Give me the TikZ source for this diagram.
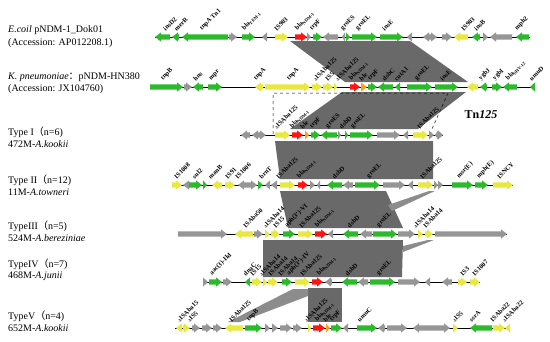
\documentclass[tikz,border=0pt]{standalone}
\usepackage{fontspec}
\setmainfont{Liberation Serif}
\newfontfamily\cjk{Noto Sans CJK SC}
\definecolor{gG}{RGB}{44,186,44}
\definecolor{gY}{RGB}{232,232,64}
\definecolor{gA}{RGB}{150,150,150}
\definecolor{rd}{RGB}{255,20,20}
\definecolor{og}{RGB}{255,160,20}
\definecolor{sh}{RGB}{105,105,105}
\definecolor{sl}{RGB}{140,140,140}
\newcounter{lb}
\newcommand{\gn}[3]{%
  \pgfmathsetmacro{\gX}{#3-((#3>#2)?1:-1)*min(abs(#3-#2),6)}%
  \fill[#1] (#2,\ty-2.6) -- (\gX,\ty-2.6) -- (\gX,\ty-4.6) -- (#3,\ty) -- (\gX,\ty+4.6) -- (\gX,\ty+2.6) -- (#2,\ty+2.6) -- cycle;}
\newcommand{\gl}[2]{\stepcounter{lb}\node[glab] (lab\arabic{lb}) at (#1,\ty-5.5) {#2};}
\newcommand{\trk}[2]{\draw[trline] (#1,\ty) -- (#2,\ty);}
\newcommand{\bla}[1]{bla\textsubscript{#1}}
\newcommand{\dl}{{\fontsize{4}{4}\selectfont Δ}}
\tikzset{
  glab/.style={rotate=45,anchor=south west,inner sep=0pt,font=\fontsize{6.5}{7}\selectfont\bfseries},
  ttl/.style={anchor=west,inner sep=0pt,font=\fontsize{10}{12}\selectfont},
  trline/.style={line width=0.8pt,black},
  shade/.style={fill=sh},
  shadel/.style={fill=sl},
}
\begin{document}
\begin{tikzpicture}[x=1pt,y=-1pt]
\useasboundingbox[fill=white] (0,0) rectangle (550,341);
% ---------- homology shading ----------
\fill[shade] (290,41) -- (410,41) -- (468,82) -- (345,82) -- cycle;
\fill[shade] (342,92) -- (466,92) -- (418,129) -- (290,129) -- cycle;
\fill[shade] (275,141) -- (433,141) -- (433,179) -- (280,179) -- cycle;
\fill[shade] (280,191) -- (386,191) -- (403,228) -- (288,228) -- cycle;
\fill[shadel] (429,191) -- (435,191) -- (392,211) -- (388,205) -- cycle;
\fill[shade] (263,240) -- (403,240) -- (402,277) -- (263,277) -- cycle;
\fill[shadel] (428,240) -- (434,240) -- (403,252) -- (403,246) -- cycle;
\fill[shade] (308,288) -- (342,288) -- (342,322) -- (308,322) -- cycle;
\fill[shadel] (228,322) -- (293,289) -- (308,289) -- (308,296) -- (240,322) -- cycle;
% ---------- Tn125 box ----------
\coordinate (d1) at (273,134); \coordinate (d2) at (273,93);
\coordinate (d3) at (448,93); \coordinate (d4) at (432,129);
\draw[dashed,line width=0.5pt] (d1) -- (d2) -- (d3) -- (d4);
\node[inner sep=0pt,font=\fontsize{12}{14}\selectfont\bfseries] (tn) at (481,115) {Tn\textit{125}};
% ---------- titles ----------
\node[ttl] (t1) at (8,30) {\textit{E.coil} pNDM-1\_Dok01};
\node[ttl] (t2) at (8,43) {(Accession: AP012208.1)};
\node[ttl] (t3) at (8,77) {\textit{K. pneumoniae}{\cjk ：}pNDM-HN380};
\node[ttl] (t4) at (8,89) {(Accession: JX104760)};
\node[ttl] (t5) at (8,132) {Type I{\cjk （}n=6)};
\node[ttl] (t6) at (8,144) {472M-\textit{A.kookii}};
\node[ttl] (t7) at (8,180) {Type II{\cjk （}n=12)};
\node[ttl] (t8) at (8,192) {11M-\textit{A.towneri}};
\node[ttl] (t9) at (8,226) {TypeIII{\cjk （}n=5)};
\node[ttl] (t10) at (8,238) {524M-\textit{A.bereziniae}};
\node[ttl] (t11) at (8,264) {TypeIV{\cjk （}n=7)};
\node[ttl] (t12) at (8,276) {468M-\textit{A.junii}};
\node[ttl] (t13) at (8,316) {TypeV{\cjk （}n=4)};
\node[ttl] (t14) at (8,328) {652M-\textit{A.kookii}};
% ---------- track 1 ----------
\def\ty{37}
\trk{155}{530}
\gn{gG}{170}{155}\gn{gG}{179}{172}\gn{gG}{228}{182}\gn{gA}{229}{237}
\gn{gG}{242}{255}\gn{gA}{267}{262}\gn{gY}{275}{288}\gn{rd}{295}{307}
\gn{gA}{307}{311}\gn{gG}{313}{322}\gn{gA}{338}{323}\gn{gA}{345}{342}
\gn{gG}{346}{350}\gn{gG}{352}{377}\gn{gG}{380}{403}\gn{gA}{412}{407}
\gn{gA}{430}{423}\gn{gA}{430}{437}\gn{gA}{442}{452}\gn{gY}{468}{454}
\gn{gG}{480}{472}\gn{gA}{483}{488}\gn{gA}{512}{490}\gn{gG}{529}{516}
\gl{166}{insD2}\gl{177}{merR}\gl{203}{tnpA Tn1}\gl{245}{\bla{TEM-1}}
\gl{277}{IS903}\gl{298}{\bla{NDM-1}}\gl{313}{trpF}\gl{344}{groES}
\gl{359}{groEL}\gl{385}{insE}\gl{464}{IS903}\gl{477}{insB}\gl{518}{mph2}
% ---------- track 2 ----------
\def\ty{87}
\trk{150}{535}
\gn{gG}{150}{183}\gn{gA}{184}{192}\gn{gG}{203}{193}\gn{gG}{208}{222}
\gn{gY}{263}{255}\gn{gY}{265}{310}\gn{gY}{312}{322}\gn{gY}{323}{333}
\gn{gY}{334}{337}\gn{rd}{350}{360}\gn{og}{361}{367}\gn{gG}{368}{377}
\gn{gG}{393}{378}\gn{gG}{400}{395}\gn{gG}{407}{432}\gn{gG}{435}{458}
\gn{gY}{478}{467}\gn{gG}{487}{480}\gn{gG}{492}{502}\gn{gG}{517}{503}
\gn{gG}{535}{530}
\gl{164}{tnpB}\gl{196}{hns}\gl{212}{mpr}\gl{257}{tnpA}\gl{290}{tnpA}
\gl{316}{\dl ISAba125}\gl{328}{IS5}\gl{338}{\dl ISAba125}\gl{352}{\bla{NDM-1}}
\gl{362}{ble}\gl{371}{trpF}\gl{385}{dsbC}\gl{397}{cutA1}\gl{418}{groEL}
\gl{443}{insE}\gl{482}{ygbJ}\gl{496}{ygbI}\gl{509}{\bla{SHV-12}}\gl{532}{umuD}
% ---------- track 3 ----------
\def\ty{135}
\trk{240}{443}
\gn{gA}{250}{241}\gn{gA}{258}{252}\gn{gA}{258}{266}\gn{gY}{275}{290}
\gn{rd}{292}{303}\gn{og}{305}{309}\gn{gG}{311}{320}\gn{gG}{337}{321}
\gn{gA}{338}{341}\gn{gG}{345}{348}\gn{gG}{350}{373}\gn{gA}{377}{400}
\gn{gA}{408}{403}\gn{gY}{413}{428}\gn{gA}{429}{434}\gn{gA}{438}{435}
\gn{gA}{438}{443}
\gl{277}{\dl ISAba125}\gl{293}{\bla{NDM-1}}\gl{303}{ble}\gl{313}{trpF}
\gl{329}{groES}\gl{342}{dsbD}\gl{354}{groEL}\gl{420}{ISAba125}
% ---------- track 4 ----------
\def\ty{185}
\trk{172}{513}
\gn{gY}{172}{182}\gn{gA}{190}{183}\gn{gG}{189}{202}\gn{gG}{203}{207}
\gn{gY}{222}{212}\gn{gY}{225}{235}\gn{gA}{247}{238}\gn{gA}{247}{257}
\gn{gG}{258}{263}\gn{gA}{270}{265}\gn{gA}{277}{271}\gn{gY}{280}{295}
\gn{rd}{298}{308}\gn{gA}{310}{315}\gn{gA}{320}{317}\gn{gG}{342}{327}
\gn{gA}{353}{343}\gn{gG}{355}{380}\gn{gA}{383}{405}\gn{gA}{413}{408}
\gn{gY}{418}{433}\gn{gA}{434}{438}\gn{gA}{438}{443}\gn{gG}{452}{473}
\gn{gG}{475}{488}\gn{gY}{493}{513}
\gl{177}{IS1008}\gl{195}{sul2}\gl{211}{manB}\gl{228}{IS91}\gl{238}{IS1006}
\gl{262}{brnT}\gl{279}{ISAba125}\gl{300}{\bla{NDM-1}}\gl{335}{dsbD}
\gl{370}{groEL}\gl{423}{ISAba125}\gl{460}{msr(E)}\gl{480}{mph(E)}\gl{500}{ISNCY}
% ---------- track 5 ----------
\def\ty{234}
\trk{178}{507}
\gn{gA}{178}{227}\gn{gY}{253}{235}\gn{gA}{254}{263}\gn{gY}{265}{270}
\gn{gY}{271}{280}\gn{gG}{283}{295}\gn{gY}{298}{313}\gn{rd}{315}{327}
\gn{gA}{333}{328}\gn{gG}{358}{343}\gn{gA}{372}{360}\gn{gG}{373}{397}
\gn{gA}{398}{415}\gn{gY}{418}{423}\gn{gY}{425}{433}\gn{gA}{435}{507}
\gl{246}{ISAba50}\gl{266}{\dl ISAba14}\gl{276}{IS15}\gl{288}{aph(3')-VI}
\gl{302}{ISAba125}\gl{318}{\bla{NDM-1}}\gl{350}{dsbD}\gl{380}{groEL}
\gl{416}{\dl ISAba14}\gl{426}{ISAba14}
% ---------- track 6 ----------
\def\ty{282}
\trk{203}{480}
\gn{gA}{203}{208}\gn{gG}{209}{222}\gn{gA}{223}{232}\gn{gG}{250}{245}
\gn{gY}{252}{262}\gn{gY}{263}{267}\gn{gY}{268}{278}\gn{gG}{282}{292}
\gn{gY}{295}{310}\gn{rd}{312}{323}\gn{gA}{332}{325}\gn{gG}{357}{342}
\gn{gA}{368}{358}\gn{gG}{370}{395}\gn{gA}{398}{420}\gn{gA}{430}{425}
\gn{gA}{452}{442}\gn{gY}{458}{467}\gn{gY}{470}{480}
\gl{213}{aac(3)-IId}\gl{246}{dnaC}\gl{253}{IS15}\gl{262}{\dl ISAba14}
\gl{271}{ISAba14}\gl{281}{ISAba14}\gl{290}{aph(3')-IV}\gl{303}{ISAba125}
\gl{320}{\bla{NDM-1}}\gl{348}{dsbD}\gl{380}{groEL}\gl{463}{IS3}\gl{475}{IS1007}
% ---------- track 7 ----------
\def\ty{328}
\trk{175}{510}
\gn{gY}{182}{176}\gn{gY}{183}{190}\gn{gA}{192}{200}\gn{gA}{202}{212}
\gn{gA}{213}{222}\gn{gY}{243}{225}\gn{gG}{245}{262}\gn{gA}{265}{270}
\gn{gA}{272}{278}\gn{gA}{280}{292}\gn{gA}{293}{302}\gn{gY}{308}{311}
\gn{rd}{313}{325}\gn{og}{326}{330}\gn{gG}{331}{342}\gn{gA}{348}{343}
\gn{gG}{357}{377}\gn{gA}{385}{378}\gn{gA}{387}{407}\gn{gA}{437}{413}
\gn{gA}{437}{450}\gn{gY}{453}{458}\gn{gG}{492}{470}\gn{gY}{493}{505}
\gn{gY}{510}{505}
\gl{180}{\dl ISAba15}\gl{190}{\dl IS5}\gl{232}{ISAba125}\gl{250}{tnpB}
\gl{307}{\dl ISAba125}\gl{318}{\bla{NDM-1}}\gl{326}{ble}\gl{333}{trpF}
\gl{360}{umuC}\gl{455}{\dl IS5}\gl{472}{ssrA}\gl{493}{ISAba22}\gl{505}{\dl ISAba22}
\end{tikzpicture}
\end{document}
